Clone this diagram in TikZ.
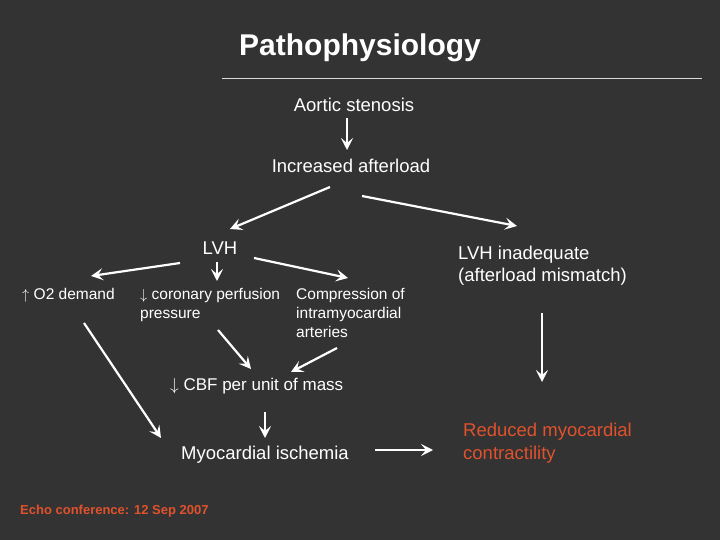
\documentclass[tikz,border=0pt]{standalone}
\usepackage{fontspec}
\setmainfont{Liberation Sans}
\usetikzlibrary{arrows.meta}
\definecolor{bg}{HTML}{333333}
\definecolor{redt}{HTML}{E0522C}
\begin{document}
\begin{tikzpicture}[x=1pt,y=-1pt,
  t/.style={text=white,font=\fontsize{18.5}{22}\selectfont,inner sep=0pt},
  s/.style={text=white,font=\fontsize{15.5}{19}\selectfont,inner sep=0pt,align=left},
  ar/.style={draw=white,line width=2.2pt,-{Stealth[length=12pt,width=12pt,inset=5pt]}}]
\fill[bg] (0,0) rectangle (720,540);
\useasboundingbox (0,0) rectangle (720,540);
\node[text=white,font=\bfseries\fontsize{30}{34}\selectfont] (title) at (360,48) {Pathophysiology};
\draw[white!85!black,line width=0.8pt] (222,78) -- (702,78);
\node[t] (as) at (354,105) {Aortic stenosis};
\node[t] (ia) at (351,166) {Increased afterload};
\node[t] (lvh) at (220,248) {LVH};
\node[t,anchor=west,align=left,font=\fontsize{18.5}{22}\selectfont] (lvhi) at (458,266) {LVH inadequate\\(afterload mismatch)};
\node[s,anchor=north west] (o2) at (22,288) {$\uparrow$ O2 demand};
\node[s,anchor=north west] (cp) at (140,288) {$\downarrow$ coronary perfusion\\pressure};
\node[s,anchor=north west] (ci) at (296,288) {Compression of\\intramyocardial\\arteries};
\node[s,anchor=west,font=\fontsize{17}{19}\selectfont] (cbf) at (170,386) {$\downarrow$ CBF per unit of mass};
\node[t] (mi) at (265,455) {Myocardial ischemia};
\node[t,anchor=west,align=left,text=redt,font=\fontsize{18.5}{23}\selectfont] (rc) at (463,443) {Reduced myocardial\\contractility};
\node[anchor=west,text=redt,font=\bfseries\fontsize{13}{15}\selectfont,inner sep=0pt] (foot) at (20,511) {Echo conference: 12 Sep 2007};
\coordinate (a1) at (347,118); \coordinate (a2) at (347,150);
\draw[ar] (a1) -- (a2);
\coordinate (b1) at (330,187); \coordinate (b2) at (230,229);
\draw[ar] (b1) -- (b2);
\coordinate (c1) at (362,196); \coordinate (c2) at (517,226);
\draw[ar] (c1) -- (c2);
\coordinate (d1) at (180,263); \coordinate (d2) at (91,276);
\draw[ar] (d1) -- (d2);
\coordinate (e1) at (217,262); \coordinate (e2) at (217,281);
\draw[ar,line width=1.5pt] (e1) -- (e2);
\coordinate (f1) at (254,258); \coordinate (f2) at (348,278);
\draw[ar] (f1) -- (f2);
\coordinate (g1) at (84,323); \coordinate (g2) at (161,438);
\draw[ar] (g1) -- (g2);
\coordinate (h1) at (218,330); \coordinate (h2) at (251,369);
\draw[ar] (h1) -- (h2);
\coordinate (i1) at (337,348); \coordinate (i2) at (291,372);
\draw[ar] (i1) -- (i2);
\coordinate (j1) at (542,313); \coordinate (j2) at (542,382);
\draw[ar,line width=1.5pt] (j1) -- (j2);
\coordinate (k1) at (265,412); \coordinate (k2) at (265,438);
\draw[ar,line width=1.5pt] (k1) -- (k2);
\coordinate (l1) at (375,450); \coordinate (l2) at (433,450);
\draw[ar,line width=1.5pt] (l1) -- (l2);
\end{tikzpicture}
\end{document}
